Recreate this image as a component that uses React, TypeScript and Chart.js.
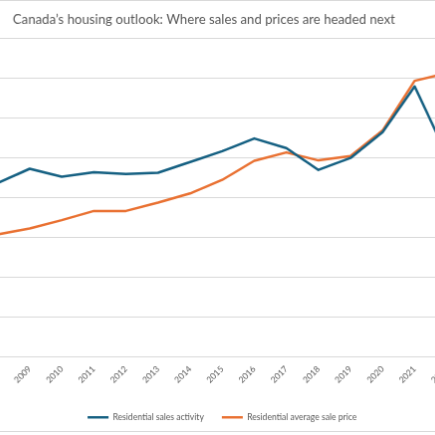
import React, { useEffect, useRef } from "react";
import { Chart, registerables } from "chart.js";

Chart.register(...registerables);

// Years shown on the category axis
const years = [
  "2008", "2009", "2010", "2011", "2012", "2013", "2014", "2015",
  "2016", "2017", "2018", "2019", "2020", "2021", "2022",
];

// Residential sales activity (thousands of units)
const salesActivity = [436, 472, 452, 463, 459, 462, 489, 516, 548, 524, 469, 499, 564, 679, 507];

// Residential average sale price (thousands of dollars)
const averagePrice = [307, 322, 343, 366, 366, 387, 410, 444, 492, 513, 493, 504, 568, 693, 712];

const seriesNames = ["Residential sales activity", "Residential average sale price"];
const titleText = "Canada\u2019s housing outlook: Where sales and prices are headed next";

const FONT = "Lato";
const GREY = "#595959";
const GRID = "#d9d9d9";

export default function App() {
  const ref = useRef<HTMLCanvasElement | null>(null);

  useEffect(() => {
    if (!ref.current) return;
    const chart = new Chart(ref.current, {
      type: "line",
      data: {
        labels: years,
        datasets: [
          {
            label: seriesNames[0],
            data: salesActivity,
            borderColor: "#156082",
            backgroundColor: "#156082",
            borderWidth: 2.5,
            pointRadius: 0,
            tension: 0,
            borderJoinStyle: "round",
            borderCapStyle: "round",
          },
          {
            label: seriesNames[1],
            data: averagePrice,
            borderColor: "#E97132",
            backgroundColor: "#E97132",
            borderWidth: 2.5,
            pointRadius: 0,
            tension: 0,
            borderJoinStyle: "round",
            borderCapStyle: "round",
          },
        ],
      },
      options: {
        responsive: false,
        animation: false,
        layout: { padding: { left: 4, right: 16.3, top: 0, bottom: -0.6 } },
        plugins: {
          title: {
            display: true,
            text: titleText,
            color: GREY,
            font: { family: FONT, size: 13.2, weight: "normal" },
            padding: { top: 10.7, bottom: 10.76 },
          },
          legend: {
            position: "bottom",
            fullSize: false,
            labels: {
              color: GREY,
              font: { family: FONT, size: 8.6 },
              usePointStyle: true,
              pointStyle: "line",
              pointStyleWidth: 21,
              padding: 18,
            },
          },
          tooltip: { enabled: false },
        },
        scales: {
          x: {
            offset: true,
            grid: { display: false, drawTicks: false },
            border: { display: true, color: GRID, width: 1 },
            ticks: {
              color: GREY,
              font: { family: FONT, size: 8.6 },
              minRotation: 45,
              maxRotation: 45,
              autoSkip: false,
              padding: 7.3,
              labelOffset: 0,
            },
            afterFit: (s: any) => {
              s.height = 38.7;
            },
          },
          y: {
            min: 0,
            max: 800,
            ticks: {
              stepSize: 100,
              color: GREY,
              font: { family: FONT, size: 8.6 },
              callback: (v: any) => Number(v) * 1000,
            },
            grid: { color: GRID, lineWidth: 1, drawTicks: false },
            border: { display: false },
            afterFit: (s: any) => {
              s.width = 36.7;
            },
          },
        },
      },
    });
    return () => chart.destroy();
  }, []);

  return (
    <div
      style={{
        position: "fixed",
        left: 0,
        top: 0,
        width: 435,
        height: 435,
        overflow: "hidden",
        background: "#fff",
      }}
    >
      <canvas
        ref={ref}
        width={540}
        height={432}
        style={{
          position: "absolute",
          left: -60,
          top: 0,
          width: 540,
          height: 432,
          border: `1px solid ${GRID}`,
        }}
      />
    </div>
  );
}
